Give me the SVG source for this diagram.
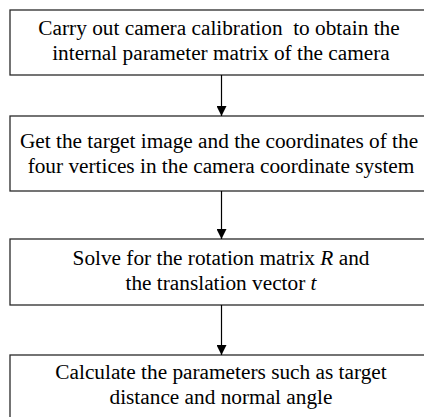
<svg xmlns="http://www.w3.org/2000/svg" width="424" height="417" viewBox="0 0 424 417">
<style>
.box{fill:#fff;stroke:#2a2a2a;stroke-width:1.3}
.t{font-family:"Liberation Serif","Times New Roman",serif;font-size:21.3px;fill:#000;text-anchor:middle}
.c{stroke:#000;stroke-width:1.2;fill:none}
</style>
<defs>
<marker id="ah" markerWidth="10" markerHeight="10" refX="10" refY="5" orient="auto" markerUnits="userSpaceOnUse">
<path d="M0,0 L10,5 L0,10 Z" fill="#000"/>
</marker>
</defs>
<rect width="424" height="417" fill="#fff"/>
<g id="node1">
<rect class="box" x="10" y="10" width="422" height="65"/>
<text class="t" x="219" y="35" xml:space="preserve">Carry out camera calibration  to obtain the</text>
<text class="t" x="221" y="60">internal parameter matrix of the camera</text>
</g>
<g id="node2">
<rect class="box" x="10" y="116" width="422" height="75"/>
<text class="t" x="219" y="148">Get the target image and the coordinates of the</text>
<text class="t" x="221" y="173">four vertices in the camera coordinate system</text>
</g>
<g id="node3">
<rect class="box" x="10" y="239" width="422" height="66"/>
<text class="t" x="221" y="265">Solve for the rotation matrix <tspan font-style="italic">R</tspan> and</text>
<text class="t" x="221" y="290">the translation vector <tspan font-style="italic">t</tspan></text>
</g>
<g id="node4">
<rect class="box" x="10" y="355" width="422" height="80"/>
<text class="t" x="221" y="379">Calculate the parameters such as target</text>
<text class="t" x="221" y="404">distance and normal angle</text>
</g>
<g id="connectors">
<line class="c" x1="221.5" y1="75" x2="221.5" y2="116" marker-end="url(#ah)"/>
<line class="c" x1="221.5" y1="191" x2="221.5" y2="239" marker-end="url(#ah)"/>
<line class="c" x1="221.5" y1="305" x2="221.5" y2="355" marker-end="url(#ah)"/>
</g>
</svg>
